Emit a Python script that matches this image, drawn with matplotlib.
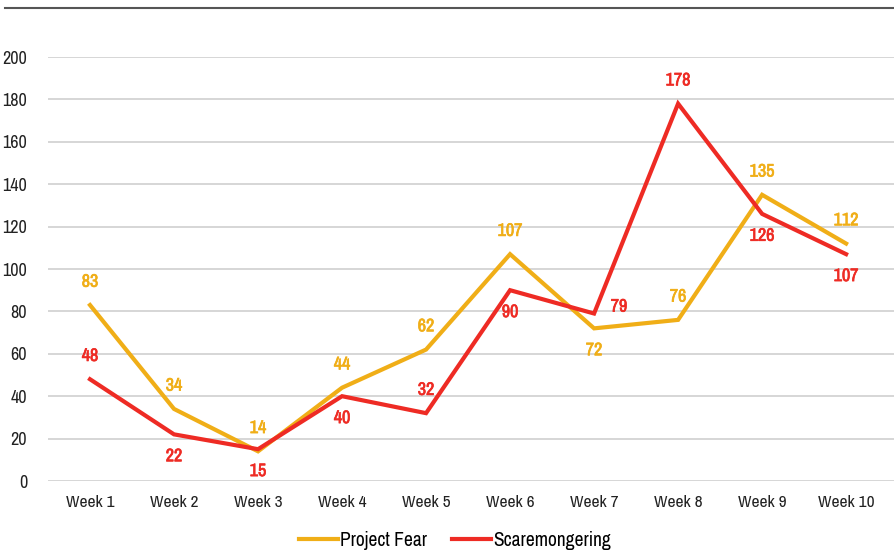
import matplotlib
matplotlib.use("Agg")
import matplotlib.pyplot as plt
import matplotlib.patheffects as pe
from matplotlib.lines import Line2D

plt.rcParams['font.family'] = ['Archivo Narrow', 'DejaVu Sans']

categories = ["Week 1", "Week 2", "Week 3", "Week 4", "Week 5",
              "Week 6", "Week 7", "Week 8", "Week 9", "Week 10"]
project_fear = [83, 34, 14, 44, 62, 107, 72, 76, 135, 112]
scaremongering = [48, 22, 15, 40, 32, 90, 79, 178, 126, 107]
pf_pos = ["above", "above", "above", "above", "above", "above", "below", "above", "above", "above"]
sc_pos = ["above", "below", "below", "below", "above", "below", "right", "above", "below", "below"]
yticks = [0, 20, 40, 60, 80, 100, 120, 140, 160, 180, 200]

YELLOW = "#F0AE17"
RED = "#EE2B24"

fig = plt.figure(figsize=(8.94, 5.5), dpi=100)
ax = fig.add_axes([48/894, 1-481/550, 846/894, 424/550])
x = list(range(len(categories)))
ax.plot(x, project_fear, color=YELLOW, lw=3, solid_joinstyle='miter', zorder=3)
ax.plot(x, scaremongering, color=RED, lw=3, solid_joinstyle='miter', zorder=4)

def label(vals, pos, color):
    fx = [pe.withStroke(linewidth=0.5, foreground=color)]
    for i, (v, p) in enumerate(zip(vals, pos)):
        if p == "above":
            kw = dict(xytext=(0, 11), ha='center', va='bottom')
        elif p == "below":
            kw = dict(xytext=(0, -10), ha='center', va='top')
        else:
            kw = dict(xytext=(12, 5), ha='left', va='center')
        ax.annotate(str(v), (i, v), textcoords='offset points', color=color,
                    fontsize=13, fontweight='bold', path_effects=fx, **kw)

label(project_fear, pf_pos, YELLOW)
label(scaremongering, sc_pos, RED)

ax.set_xlim(-0.5, len(categories) - 0.5 + 0.07)
ax.set_ylim(0, 200)
ax.set_yticks(yticks)
ax.set_xticks(x)
ax.set_xticklabels(categories)
ax.grid(axis='y', color='#D0D0D0', lw=1.2)
ax.set_axisbelow(True)
for s in ax.spines.values():
    s.set_visible(False)
ax.tick_params(length=0, labelsize=12.5, colors='#222222', pad=10)
ax.tick_params(axis='y', labelsize=13, pad=15)

fig.add_artist(Line2D([5/894, 1], [1-8/550, 1-8/550], color='#555555', lw=1.5))

handles = [Line2D([], [], color=YELLOW, lw=3), Line2D([], [], color=RED, lw=3)]
fig.legend(handles, ["Project Fear", "Scaremongering"], loc='center',
           bbox_to_anchor=(455/894, 1-540/550), ncol=2, frameon=False,
           fontsize=14, handlelength=2.0, handletextpad=0.15, columnspacing=1.25)

fig.savefig("out.png", dpi=100)
